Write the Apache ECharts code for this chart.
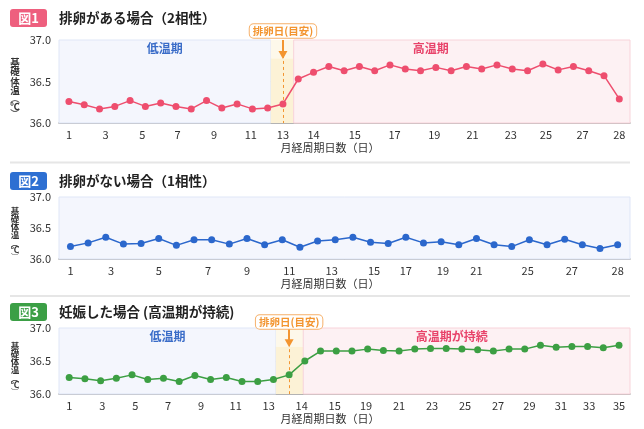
<!DOCTYPE html>
<html>
<head>
<meta charset="utf-8">
<script src="https://cdn.jsdelivr.net/npm/echarts@6/dist/echarts.min.js"></script>
<style>
  html, body { margin: 0; padding: 0; background: #fff; }
  #chart { width: 644px; height: 429px; }
</style>
</head>
<body>
<div id="chart"></div>
<script>
// Temperatures (℃), one per plotted point
const temps1 = [36.26, 36.22, 36.17, 36.20, 36.27, 36.20, 36.24, 36.20, 36.17, 36.27, 36.18, 36.23, 36.17, 36.18, 36.23,
    36.53, 36.61, 36.68, 36.63, 36.68, 36.63, 36.70, 36.65, 36.63, 36.67, 36.63, 36.68, 36.65, 36.70, 36.65, 36.63,
    36.71, 36.64, 36.68, 36.63, 36.57, 36.29];
const temps2 = [36.20, 36.26, 36.35, 36.24, 36.25, 36.33, 36.22, 36.31, 36.31, 36.24, 36.33, 36.23, 36.31, 36.19, 36.29, 36.31,
    36.35, 36.27, 36.25, 36.35, 36.26, 36.28, 36.23, 36.33, 36.23, 36.20, 36.31, 36.23, 36.32, 36.23, 36.17, 36.23];
const temps3 = [36.25, 36.23, 36.20, 36.24, 36.29, 36.22, 36.24, 36.19, 36.28, 36.22, 36.25, 36.19, 36.19, 36.22, 36.29,
    36.50, 36.65, 36.65, 36.65, 36.68, 36.66, 36.65, 36.68, 36.69, 36.69, 36.68, 36.67, 36.65, 36.68, 36.68,
    36.74, 36.71, 36.72, 36.72, 36.70, 36.74];

// Day labels and where they sit along the point index
const ticks1 = ['1', '3', '5', '7', '9', '11', '13', '14', '15', '17', '19', '21', '23', '25', '27', '28'];
const tickPos1 = [0, 2.4, 4.8, 7.1, 9.5, 11.9, 14, 16.0, 18.7, 21.3, 23.9, 26.4, 28.9, 31.2, 33.6, 36];
const ticks2 = ['1', '3', '5', '7', '9', '11', '13', '15', '17', '19', '21', '25', '27', '28'];
const tickPos2 = [0, 2.3, 5.0, 7.8, 10.0, 12.4, 14.8, 17.2, 19.0, 21.1, 23.0, 25.9, 28.4, 31];
const ticks3 = ['1', '3', '5', '7', '9', '11', '13', '14', '15', '19', '21', '23', '25', '27', '29', '31', '33', '35'];
const tickPos3 = [0, 2.1, 4.2, 6.3, 8.4, 10.6, 12.7, 14.8, 16.9, 18.9, 21.0, 23.1, 25.2, 27.3, 29.3, 31.3, 33.1, 35];

// Phase boundaries (point index) and ovulation point
const lowEnd1 = 13.2, highStart1 = 14.7, ovu1 = 14;
const lowEnd3 = 13.15, highStart3 = 14.9, ovu3 = 14;

const titles = ['排卵がある場合（2相性）', '排卵がない場合（1相性）', '妊娠した場合 (高温期が持続)'];
const badges = ['図1', '図2', '図3'];
const phaseLabels = ['低温期', '高温期', '高温期が持続'];
const ovuLabel = '排卵日(目安)';
const yName = '{c|基}\n{c|礎}\n{c|体}\n{c|温}\n{p|︵}\n{c|℃}\n{p|︶}';

const FONT = '"Noto Sans CJK JP", "Noto Sans", sans-serif';
const C = {
    pink: '#ee4e6e', blue: '#2b67cc', green: '#3c9f43', orange: '#f39530',
    lowBg: '#f4f6fd', lowBorder: '#dfe6f7', highBg: '#fdf1f3', highBorder: '#f8d3da',
    yellow: '#fcf2d6', yellowTop: '#fdf8ea', text: '#333'
};

const grids = [
    { left: 59, right: 14, top: 40, height: 83 },
    { left: 59, right: 14, top: 197, height: 62 },
    { left: 59, right: 14, top: 328, height: 66 }
];

function xAxisFor(i, n, ticks, pos) {
    return {
        type: 'value', gridIndex: i, min: -0.65, max: n - 1 + 0.7,
        axisLine: { lineStyle: { color: '#9a9a9a', width: 1.5 } },
        axisTick: { show: false },
        splitLine: { show: false },
        axisLabel: {
            customValues: pos, margin: 6, fontSize: 11, color: C.text, fontFamily: FONT,
            formatter: v => ticks[pos.indexOf(v)] || ''
        },
        name: '月経周期日数（日）', nameLocation: 'middle', nameGap: 19,
        nameTextStyle: { fontSize: 11, color: C.text, fontFamily: FONT, padding: [0, 29, 0, 0] }
    };
}

function yAxisFor(i) {
    return {
        type: 'value', gridIndex: i, min: 36, max: 37, interval: 0.5,
        axisLine: { show: false }, axisTick: { show: false },
        axisLabel: { fontSize: 11, color: C.text, fontFamily: FONT, margin: 8, formatter: v => v.toFixed(1) },
        splitLine: { show: true, lineStyle: { type: 'dashed', color: ['transparent', '#cfcfcf', 'transparent'] } }
    };
}

// vertical y-axis caption, drawn as stacked characters
function yNameText(cy, fs, lh) {
    return {
        type: 'text', x: 15, y: cy, silent: true,
        style: {
            text: yName, align: 'center', verticalAlign: 'middle',
            rich: {
                c: { fontSize: fs, lineHeight: lh, fill: C.text, fontFamily: FONT, fontWeight: 'bold', align: 'center' },
                p: { fontSize: fs, lineHeight: 6, fill: C.text, fontFamily: FONT, align: 'center' }
            }
        }
    };
}

function regionAreas(lowEnd, highStart, n, highText, highOffset, yellowTopY) {
    return {
        silent: true,
        data: [
            [{ xAxis: -0.65, itemStyle: { color: C.lowBg, borderColor: C.lowBorder, borderWidth: 1 },
               label: { show: true, position: 'insideTop', distance: 3, formatter: phaseLabels[0], color: '#3a6cc8', fontSize: 12, fontWeight: 'bold', fontFamily: FONT } },
             { xAxis: lowEnd }],
            [{ xAxis: lowEnd, yAxis: 36, itemStyle: { color: C.yellow } }, { xAxis: highStart, yAxis: yellowTopY }],
            [{ xAxis: lowEnd, yAxis: yellowTopY, itemStyle: { color: C.yellowTop } }, { xAxis: highStart, yAxis: 37 }],
            [{ xAxis: highStart, itemStyle: { color: C.highBg, borderColor: C.highBorder, borderWidth: 1 },
               label: { show: true, position: 'insideTop', distance: 3, offset: [highOffset, 0], formatter: highText, color: '#e8436a', fontSize: 12, fontWeight: 'bold', fontFamily: FONT } },
             { xAxis: n - 1 + 0.7 }]
        ]
    };
}

function ovulationLines(x, arrowEnd) {
    return {
        silent: true, animation: false,
        label: { show: false },
        data: [
            [{ coord: [x, arrowEnd], symbol: 'none', lineStyle: { type: [3, 3], color: C.orange, width: 1 } },
             { coord: [x, 36], symbol: 'none' }],
            [{ coord: [x, 37], symbol: 'none', lineStyle: { type: 'solid', color: C.orange, width: 2 } },
             { coord: [x, arrowEnd], symbol: 'triangle', symbolSize: [9, 8], symbolRotate: 180 }]
        ]
    };
}

function ovulationBox(x, dy) {
    return {
        silent: true, symbol: 'rect', symbolSize: 0,
        data: [{ coord: [x, 37] }],
        label: {
            show: true, position: 'inside', offset: [0, dy], formatter: ovuLabel,
            color: C.orange, fontSize: 10.5, fontWeight: 'bold', fontFamily: FONT,
            backgroundColor: '#fff', borderColor: '#f6b06a', borderWidth: 1, borderRadius: 4, padding: [2, 3, 1, 3]
        }
    };
}

function lineSeries(i, data, color) {
    return {
        type: 'line', xAxisIndex: i, yAxisIndex: i,
        data: data.map((t, k) => [k, t]),
        symbol: 'circle', symbolSize: 7, showSymbol: true,
        lineStyle: { color: color, width: 1.5 },
        itemStyle: { color: color },
        animation: false, z: 5
    };
}

const s1 = lineSeries(0, temps1, C.pink);
s1.markArea = regionAreas(lowEnd1, highStart1, temps1.length, phaseLabels[1], -31, 36.78);
s1.markLine = ovulationLines(ovu1, 36.82);
s1.markPoint = ovulationBox(ovu1, -9);

const s2 = lineSeries(1, temps2, C.blue);
s2.markArea = {
    silent: true,
    data: [[{ xAxis: -0.65, itemStyle: { color: C.lowBg, borderColor: C.lowBorder, borderWidth: 1 } }, { xAxis: temps2.length - 1 + 0.7 }]]
};

const s3 = lineSeries(2, temps3, C.green);
s3.markArea = regionAreas(lowEnd3, highStart3, temps3.length, phaseLabels[2], -15, 36.72);
s3.markLine = ovulationLines(ovu3, 36.77);
s3.markPoint = ovulationBox(ovu3, -6);

const badgeColors = ['#ee5f7e', '#2d6fd2', '#3b9f45'];
const titleTops = [9, 172, 303];

const chart = echarts.init(document.getElementById('chart'), null, { renderer: 'canvas' });
chart.setOption({
    animation: false,
    title: titles.map((t, i) => ({
        left: 10, top: titleTops[i], padding: 0,
        text: '{b|' + badges[i] + '}{t|' + t + '}',
        textStyle: {
            rich: {
                b: { backgroundColor: badgeColors[i], color: '#fff', fontSize: 13, fontFamily: FONT, borderRadius: 3,
                     width: 37, height: 18, align: 'center' },
                t: { color: '#222', fontSize: 13.5, fontWeight: 'bold', fontFamily: FONT, padding: [0, 0, 0, 12] }
            }
        }
    })),
    graphic: [
        { type: 'line', shape: { x1: 10, y1: 162.5, x2: 630, y2: 162.5 }, style: { stroke: '#e6e6e6', lineWidth: 2 } },
        { type: 'line', shape: { x1: 10, y1: 296, x2: 630, y2: 296 }, style: { stroke: '#e6e6e6', lineWidth: 2 } },
        yNameText(87, 9.5, 9.5),
        yNameText(233, 8.5, 8.2),
        yNameText(368, 8.5, 8.2)
    ],
    grid: grids,
    xAxis: [
        xAxisFor(0, temps1.length, ticks1, tickPos1),
        xAxisFor(1, temps2.length, ticks2, tickPos2),
        xAxisFor(2, temps3.length, ticks3, tickPos3)
    ],
    yAxis: [yAxisFor(0), yAxisFor(1), yAxisFor(2)],
    series: [s1, s2, s3]
});
</script>
</body>
</html>
